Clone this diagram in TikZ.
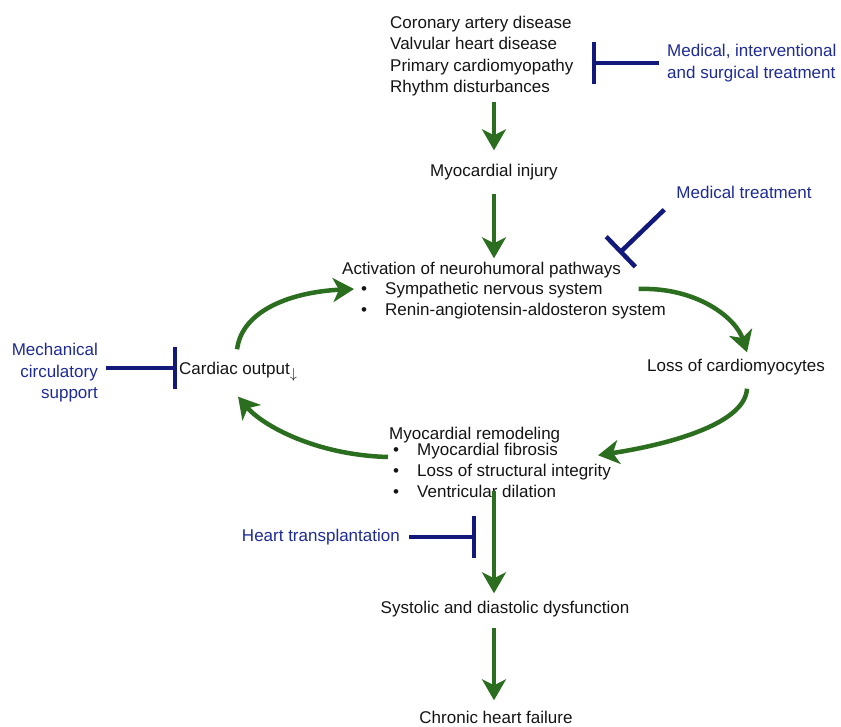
\documentclass[tikz,border=0pt]{standalone}
\usepackage{fontspec}
\setmainfont{Liberation Sans}
\usepackage{tikz}
\usetikzlibrary{arrows.meta,calc}
\definecolor{leaf}{HTML}{2C6E1F}
\definecolor{navy}{HTML}{12197A}
\definecolor{treat}{HTML}{1E2B95}
\definecolor{ink}{HTML}{141414}
\newcommand{\bul}[1]{\makebox[24pt][l]{\textbullet}#1}

\begin{document}
\begin{tikzpicture}[
  x=1pt, y=-1pt,
  font=\fontsize{17}{21.5}\selectfont,
  txt/.style={inner sep=2pt, text=ink, text height=12.5pt, text depth=0.5pt},
  blk/.style={inner sep=2pt, text=ink, align=left},
  trt/.style={inner sep=2pt, text=treat},
  garr/.style={-{Stealth[length=21pt, width=24pt, inset=6pt]}, leaf, line width=4.5pt},
  inh/.style={-{Bar[width=42pt]}, navy, line width=4.5pt},
]
\useasboundingbox (0,0) rectangle (841,727);

% causes and injury
\node[blk, anchor=west] (causes) at (388,56) {Coronary artery disease\\Valvular heart disease\\Primary cardiomyopathy\\Rhythm disturbances};
\node[txt] (injury) at (494,171) {Myocardial injury};

% neurohumoral activation
\node[txt, anchor=west] (act) at (340,269) {Activation of neurohumoral pathways};
\node[txt, anchor=west] (sns) at (359,289) {\bul{Sympathetic nervous system}};
\node[txt, anchor=west] (raas) at (359,310) {\bul{Renin-angiotensin-aldosteron system}};

% vicious circle
\node[txt] (loss) at (736,366) {Loss of cardiomyocytes};
\node[txt, anchor=west] (co) at (177,368) {Cardiac output\raisebox{-4pt}{\fontsize{15}{15}\selectfont$\downarrow$}};
\node[txt, anchor=west] (remod) at (387,433) {Myocardial remodeling};
\node[txt, anchor=west] (fib) at (391,449) {\bul{Myocardial fibrosis}};
\node[txt, anchor=west] (integ) at (391,470) {\bul{Loss of structural integrity}};
\node[txt, anchor=west] (dil) at (391,491) {\bul{Ventricular dilation}};

% outcome
\node[txt] (sdd) at (505,607) {Systolic and diastolic dysfunction};
\node[txt] (chf) at (496,717) {Chronic heart failure};

% treatments
\node[trt, align=left, anchor=west] (mist) at (665,63) {Medical, interventional\\and surgical treatment};
\node[trt, text height=12.5pt, text depth=.5pt] (medt) at (744,193) {Medical treatment};
\node[trt, align=right, anchor=east] (mcs) at (100,373) {Mechanical\\circulatory\\support};
\node[trt, anchor=east] (ht) at (402,537) {Heart transplantation};

% main axis
\draw[garr, shorten <=4pt, shorten >=12pt] (injury.north |- causes.south) -- (injury.north);
\draw[garr, shorten <=14pt, shorten >=2pt] (injury.south) -- (act.north -| injury);
\draw[garr, shorten >=5pt] (dil.center -| injury) -- (sdd.north -| injury);
\draw[garr, shorten <=12pt, shorten >=8pt] (sdd.south -| injury) -- (chf.north -| injury);

% loop
\draw[garr] ($(sns.east)+(34,0)$) .. controls (697,287) and (736,318) .. ($(loss.north)+(11,-5)$);
\draw[garr] ($(loss.south)+(11,14)$) .. controls (745,425) and (665,445) .. ($(integ.north east)+(-15,-6)$);
\draw[garr] ($(fib.west)+(-3,8)$) .. controls (315,455) and (262,425) .. ($(co.south)+(0,20)$);
\draw[garr] ($(co.north)+(-1,-10)$) .. controls (242,310) and (292,292) .. ($(sns.west)+(-5,0)$);

% treatments
\draw[inh, shorten <=6pt] (mist.west) -- ($(mist.west -| causes.east)+(16,0)$);
\draw[inh] ($(medt.south west)+(-10,8)$) -- ($(act.north east)+(-4,-7)$);
\draw[inh, shorten <=6pt] (mcs.east |- co.west) -- (co.west);
\draw[inh, shorten <=7pt] (ht.east) -- ($(ht.east -| injury)+(-18,0)$);

\end{tikzpicture}
\end{document}
